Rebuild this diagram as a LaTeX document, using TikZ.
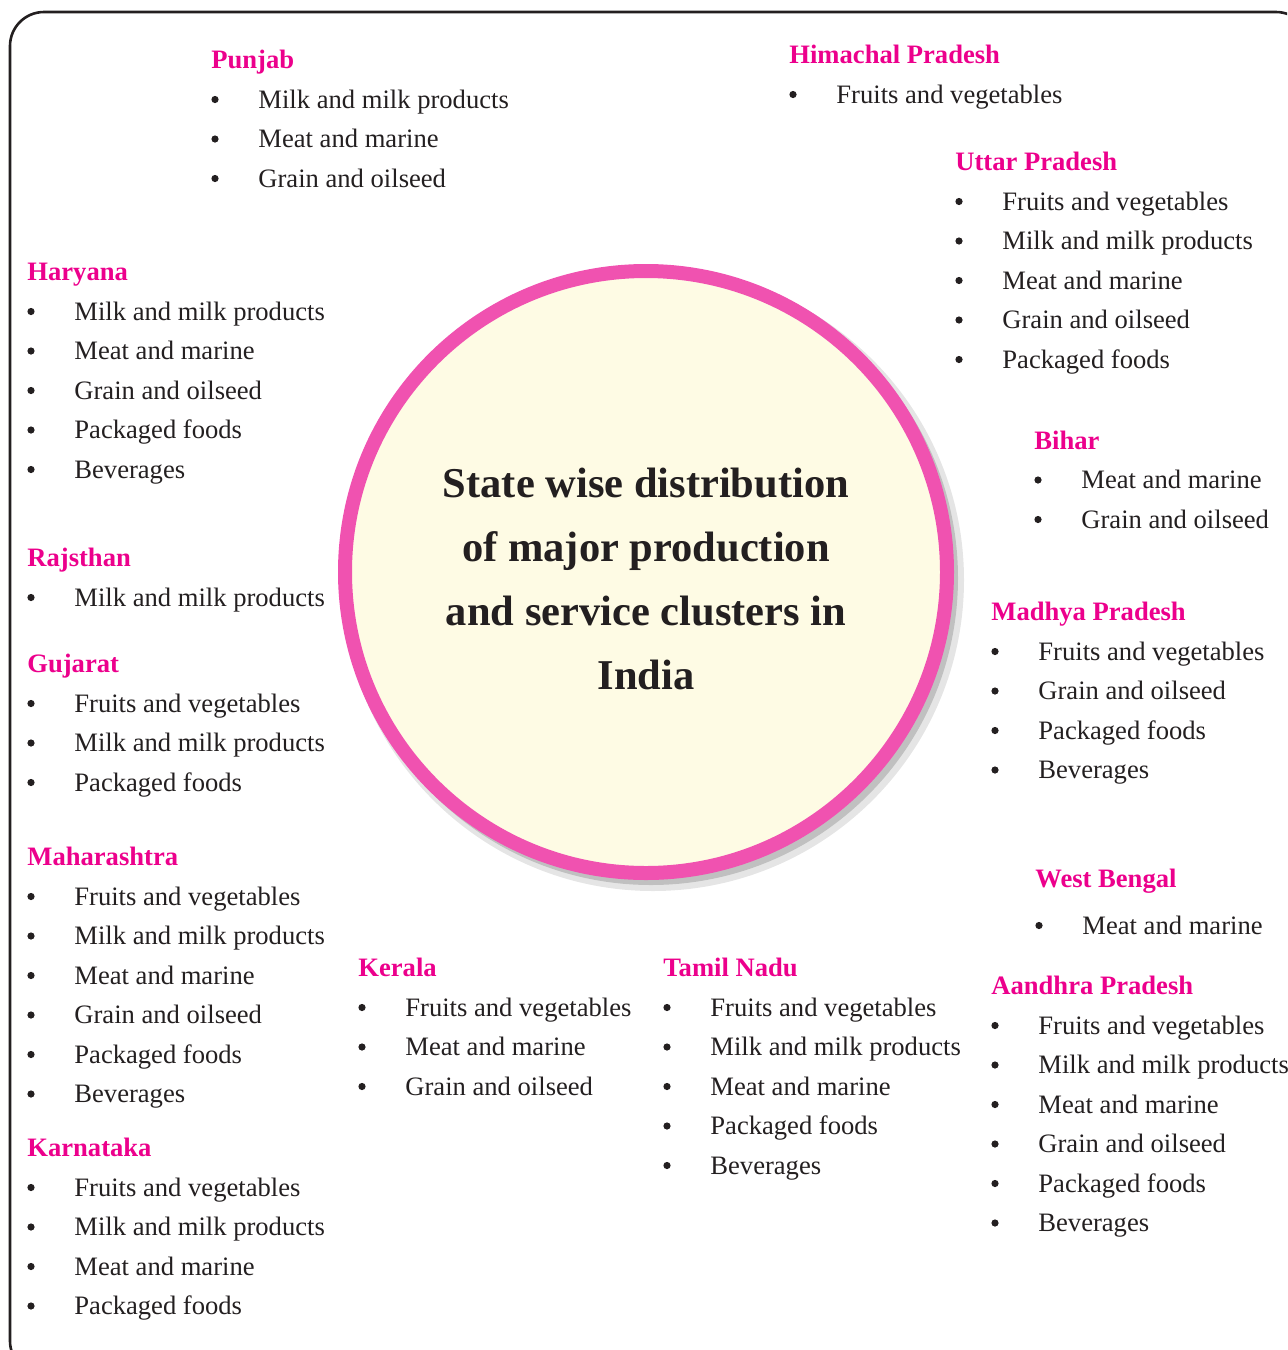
\documentclass[tikz,border=0pt]{standalone}
\usepackage{fontspec}
\setmainfont{Liberation Serif}
\usepackage{tikz}
\usetikzlibrary{calc}
\definecolor{headPink}{HTML}{EC008C}
\definecolor{ringPink}{HTML}{F052B0}
\definecolor{hubFill}{HTML}{FEFBE4}
\definecolor{inkGrey}{HTML}{231F20}
\tikzset{
  stateHead/.style={anchor=base west, inner sep=0pt, text=headPink, font=\fontsize{13.3}{16}\selectfont\bfseries},
  itemText/.style={anchor=base west, inner sep=0pt, text=inkGrey, font=\fontsize{13.3}{16}\selectfont},
  itemDot/.style={circle, fill=inkGrey, inner sep=0pt, minimum size=3.6pt},
  hubCircle/.style={circle, draw=ringPink, line width=7pt, fill=hubFill, inner sep=0pt, minimum size=301pt},
  hubShadow/.style={circle, fill=black, inner sep=0pt, draw=none},
  hubTitle/.style={inner sep=0pt, align=center, text=inkGrey, font=\fontsize{21.25}{32}\selectfont\bfseries},
  frameBox/.style={draw=inkGrey, line width=1.3pt, rounded corners=17pt}
}
% id, x, heading baseline, gap to first item, heading, items
\newcommand{\cluster}[6]{%
  \node[stateHead] (#1) at (#2,#3) {#5};
  \foreach \itm [count=\i] in {#6}{
    \node[itemDot] (#1-dot\i) at (#2+4, #3+#4+39.5*\i-39.5-8.5) {};
    \node[itemText] (#1-item\i) at (#2+47, #3+#4+39.5*\i-39.5) {\itm};
  }
}
\begin{document}
\begin{tikzpicture}[x=0.5pt, y=-0.5pt]
  \useasboundingbox (0,0) rectangle (1287,1350);
  \begin{scope}
    \clip (0,0) rectangle (1287,1350);
    \draw[frameBox] (10,12) rectangle (1310,1375);
  \end{scope}

  % centre circle
  \node[hubShadow, minimum size=311pt, opacity=0.10] (shadowA) at (653,580) {};
  \node[hubShadow, minimum size=307pt, opacity=0.16] (shadowB) at (651,578) {};
  \node[hubCircle] (hub) at (646,572) {};
  \node[hubTitle] (hubText) at (646,579) {State wise distribution\\of major production\\and service clusters in\\India};

  % left column
  \cluster{pun}{211}{68}{40}{Punjab}{Milk and milk products, Meat and marine, Grain and oilseed}
  \cluster{har}{27}{280}{40}{Haryana}{Milk and milk products, Meat and marine, Grain and oilseed, Packaged foods, Beverages}
  \cluster{raj}{27}{566}{40}{Rajsthan}{Milk and milk products}
  \cluster{guj}{27}{672}{40}{Gujarat}{Fruits and vegetables, Milk and milk products, Packaged foods}
  \cluster{mah}{27}{865}{40}{Maharashtra}{Fruits and vegetables, Milk and milk products, Meat and marine, Grain and oilseed, Packaged foods, Beverages}
  \cluster{kar}{27}{1156}{40}{Karnataka}{Fruits and vegetables, Milk and milk products, Meat and marine, Packaged foods}

  % bottom middle
  \cluster{ker}{358}{976}{40}{Kerala}{Fruits and vegetables, Meat and marine, Grain and oilseed}
  \cluster{tam}{663}{976}{40}{Tamil Nadu}{Fruits and vegetables, Milk and milk products, Meat and marine, Packaged foods, Beverages}

  % right column
  \cluster{him}{789}{63}{40}{Himachal Pradesh}{Fruits and vegetables}
  \cluster{utt}{955}{170}{40}{Uttar Pradesh}{Fruits and vegetables, Milk and milk products, Meat and marine, Grain and oilseed, Packaged foods}
  \cluster{bih}{1034}{449}{39.5}{Bihar}{Meat and marine, Grain and oilseed}
  \cluster{mad}{991}{620}{40}{Madhya Pradesh}{Fruits and vegetables, Grain and oilseed, Packaged foods, Beverages}
  \cluster{wbe}{1035}{887}{47}{West Bengal}{Meat and marine}
  \cluster{aan}{991}{994}{40}{Aandhra Pradesh}{Fruits and vegetables, Milk and milk products, Meat and marine, Grain and oilseed, Packaged foods, Beverages}
\end{tikzpicture}
\end{document}
